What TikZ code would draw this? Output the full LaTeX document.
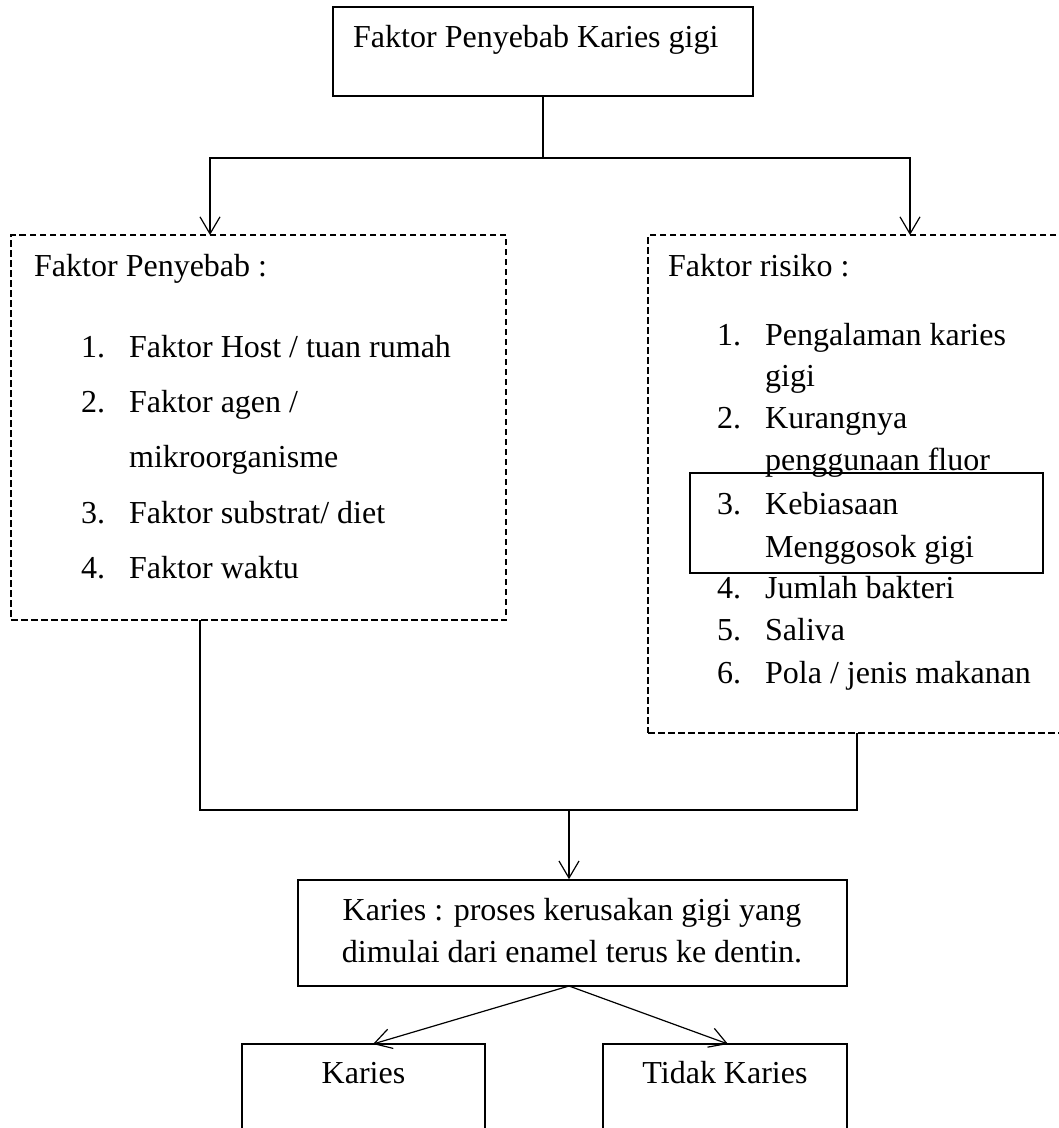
\documentclass[tikz,border=0pt]{standalone}
\usepackage{fontspec}
\setmainfont{Liberation Serif}
\usetikzlibrary{arrows.meta,calc}
\tikzset{
  txt/.style={inner sep=0pt, anchor=base west, font=\fontsize{32}{38}\selectfont},
  ctxt/.style={inner sep=0pt, anchor=base, font=\fontsize{32}{38}\selectfont},
  solidbox/.style={draw, line width=1.6pt, inner sep=0pt},
  dashbox/.style={draw, line width=2.3pt, dash pattern=on 6.5pt off 3.5pt, inner sep=0pt},
  conn/.style={line width=1.2pt},
  arr/.style={conn, -{Straight Barb[length=17pt,width=20pt,line width=1.2pt]}},
}
\begin{document}
\begin{tikzpicture}[x=1pt,y=-1pt]
\path[use as bounding box] (0,0) rectangle (1059,1128);
\clip (0,0) rectangle (1059,1128);

% boxes
\node[solidbox, minimum width=420pt, minimum height=89pt] (top) at (543,51.5) {};
\node[dashbox, minimum width=495pt, minimum height=385pt] (lbox) at (258.5,427.5) {};
\node[dashbox, minimum width=430pt, minimum height=498pt] (rbox) at (863,484) {};
\node[solidbox, minimum width=353pt, minimum height=100pt] (hbox) at (866.5,523) {};
\node[solidbox, minimum width=549pt, minimum height=106pt] (kar) at (572.5,933) {};
\node[solidbox, minimum width=243pt, minimum height=110pt] (bl) at (363.5,1099) {};
\node[solidbox, minimum width=244pt, minimum height=110pt] (br) at (725,1099) {};

% texts
\node[txt] (t0) at (353,47) {Faktor Penyebab Karies gigi};

\node[txt] (l0) at (34,276) {Faktor Penyebab :};
\node[txt] (l1n) at (81,357) {1.};
\node[txt] (l1) at (129,357) {Faktor Host / tuan rumah};
\node[txt] (l2n) at (81,412) {2.};
\node[txt] (l2) at (129,412) {Faktor agen /};
\node[txt] (l2b) at (129,467) {mikroorganisme};
\node[txt] (l3n) at (81,523) {3.};
\node[txt] (l3) at (129,523) {Faktor substrat/ diet};
\node[txt] (l4n) at (81,578) {4.};
\node[txt] (l4) at (129,578) {Faktor waktu};

\node[txt] (r0) at (668,276) {Faktor risiko :};
\node[txt] (r1n) at (717,345) {1.};
\node[txt] (r1) at (765,345) {Pengalaman karies};
\node[txt] (r1b) at (765,386) {gigi};
\node[txt] (r2n) at (717,428) {2.};
\node[txt] (r2) at (765,428) {Kurangnya};
\node[txt] (r2b) at (765,470) {penggunaan fluor};
\node[txt] (r3n) at (717,514) {3.};
\node[txt] (r3) at (765,514) {Kebiasaan};
\node[txt] (r3b) at (765,557) {Menggosok gigi};
\node[txt] (r4n) at (717,598) {4.};
\node[txt] (r4) at (765,598) {Jumlah bakteri};
\node[txt] (r5n) at (717,640) {5.};
\node[txt] (r5) at (765,640) {Saliva};
\node[txt] (r6n) at (717,683) {6.};
\node[txt] (r6) at (765,683) {Pola / jenis makanan};

\node[ctxt] (k1) at (572,920) {Karies : proses kerusakan gigi yang};
\node[ctxt] (k2) at (572,962) {dimulai dari enamel terus ke dentin.};

\node[ctxt] (b1) at (363.5,1083) {Karies};
\node[ctxt] (b2) at (725,1083) {Tidak Karies};

% connector coordinates
\coordinate (jt) at (543,158);
\coordinate (la) at (210,235);
\coordinate (ra) at (910,235);
\coordinate (lb) at (200,620);
\coordinate (rb) at (857,733);
\coordinate (jb) at (569,810);
\coordinate (ks) at (569,986);
\coordinate (blt) at (373,1044);
\coordinate (brt) at (728,1044);

\draw[conn] (top.south) -- (jt);
\draw[arr] (jt) -| (la);
\draw[arr] (jt) -| (ra);
\draw[conn] (lb) -- (lb |- jb) -- (rb |- jb) -- (rb);
\draw[arr] (jb) -- (jb |- kar.north);
\draw[arr] (ks) -- (blt);
\draw[arr] (ks) -- (brt);
\end{tikzpicture}
\end{document}
